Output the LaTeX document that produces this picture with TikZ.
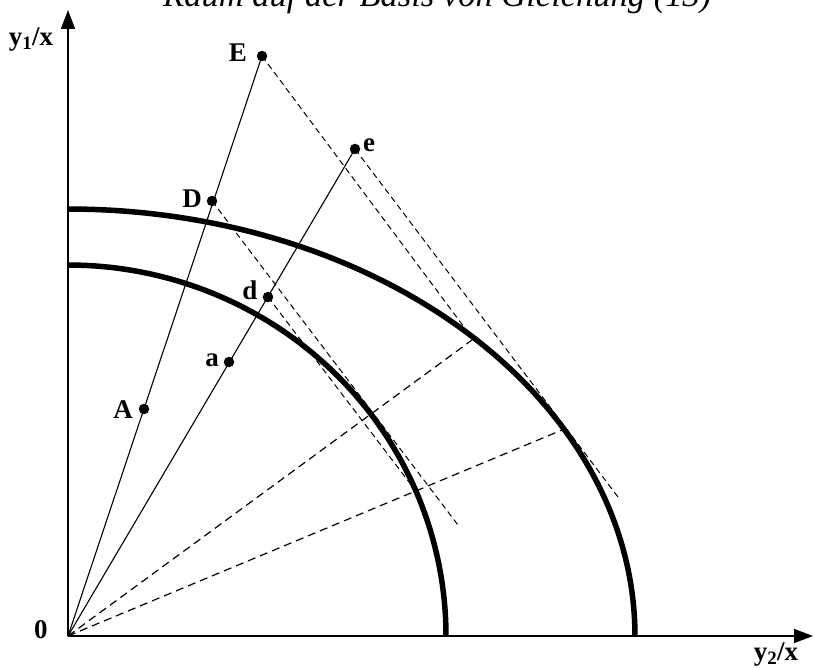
\documentclass[tikz,border=0pt]{standalone}
\usepackage{fontspec}
\setmainfont{Liberation Serif}
\usetikzlibrary{arrows.meta}
\begin{document}
\begin{tikzpicture}[x=1pt,y=-1pt,
  dot/.style={circle,fill=black,inner sep=0pt,minimum size=10.5pt},
  lab/.style={font=\fontsize{27}{27}\selectfont\bfseries,inner sep=0pt},
  axis/.style={line width=1.6pt,-{Triangle[length=19pt,width=14pt]}},
  ray/.style={line width=1.1pt},
  tang/.style={line width=1pt,dash pattern=on 6pt off 4pt},
  orad/.style={line width=1.2pt,dash pattern=on 8pt off 5pt},
  curve/.style={line width=5.5pt}]
\useasboundingbox (0,0) rectangle (814,668);
% title (cut off at top)
\node[anchor=base west,inner sep=0pt,font=\fontsize{34.5}{34.5}\selectfont\itshape] (title) at (163,7) {Raum auf der Basis von Gleichung (13)};
% origin and axes
\coordinate (O) at (68,636);
\coordinate (ytop) at (68,10);
\coordinate (xend) at (813,636);
\draw[axis] (O) -- (ytop);
\draw[axis] (O) -- (xend);
\node[lab] (ylab) at (31,40) {y\textsubscript{1}/x};
\node[lab] (xlab) at (776,655) {y\textsubscript{2}/x};
\node[lab] (zero) at (41,630) {0};
% curves
\draw[curve] plot[domain=0:90,samples=150] ({68+378*cos(\x)},{636-371*sin(\x)});
\draw[curve] plot[domain=0:90,samples=150] ({68+567*cos(\x)},{636-427*sin(\x)});
% points
\node[dot] (A) at (144,409) {};
\node[dot] (D) at (212,201) {};
\node[dot] (E) at (262,56) {};
\node[dot] (a) at (229,362) {};
\node[dot] (d) at (268,297) {};
\node[dot] (e) at (355,149) {};
\node[lab] (lA) at (123,410) {A};
\node[lab] (lD) at (192,199) {D};
\node[lab] (lE) at (238,53) {E};
\node[lab] (la) at (212,360) {a};
\node[lab] (ld) at (250,290) {d};
\node[lab] (le) at (369,145) {e};
% rays
\draw[ray] (O) -- (E.center);
\draw[ray] (O) -- (e.center);
% dashed rays from origin
\coordinate (P1) at (472,340);
\coordinate (P2) at (562,430);
\draw[orad] (O) -- (P1);
\draw[orad] (O) -- (P2);
% dashed parallel lines
\coordinate (Eend) at (467,331);
\coordinate (eend) at (618,497);
\coordinate (Dend) at (458,525);
\coordinate (dend) at (412,486);
\draw[tang] (E.center) -- (Eend);
\draw[tang] (e.center) -- (eend);
\draw[tang] (D.center) -- (Dend);
\draw[tang] (d.center) -- (dend);
\end{tikzpicture}
\end{document}
